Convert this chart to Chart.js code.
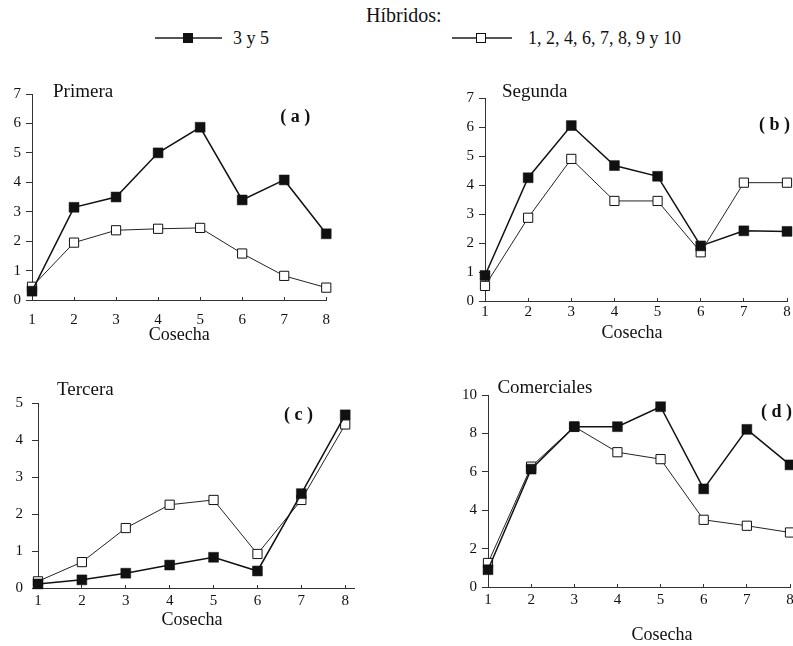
<!DOCTYPE html>
<html>
<head>
<meta charset="utf-8">
<script src="https://cdn.jsdelivr.net/npm/chart.js@4.4.1/dist/chart.umd.min.js"></script>
<style>
  html, body { margin: 0; padding: 0; background: #fff; }
  body {
    width: 793px; height: 646px; position: relative; overflow: hidden;
    font-family: 'Liberation Serif', 'Times New Roman', serif; color: #111;
  }
  canvas { position: absolute; }
  .lg-title { position: absolute; left: 366px; top: 4px; font-size: 20px; line-height: 22px; }
  .lg-line { position: absolute; top: 37px; height: 1.5px; background: #555; }
  .lg-mark { position: absolute; top: 33px; width: 10px; height: 10px; box-sizing: border-box; border: 1px solid #111; background: #111; }
  .lg-mark.open { background: #fff; }
  .lg-text { position: absolute; top: 27px; font-size: 18px; line-height: 22px; white-space: nowrap; }
</style>
</head>
<body>
<div class="lg-title">Híbridos:</div>
<div class="lg-line" style="left:155px;width:67px"></div>
<div class="lg-mark" style="left:183px"></div>
<div class="lg-text" style="left:233px">3 y 5</div>
<div class="lg-line" style="left:452px;width:60px"></div>
<div class="lg-mark open" style="left:476px"></div>
<div class="lg-text" style="left:528px">1, 2, 4, 6, 7, 8, 9 y 10</div>

<canvas id="chartA"></canvas>
<canvas id="chartB"></canvas>
<canvas id="chartC"></canvas>
<canvas id="chartD"></canvas>

<script>
// ---- data ----
const cosecha = [1, 2, 3, 4, 5, 6, 7, 8]

const primera35    = [0.30, 3.15, 3.50, 5.00, 5.87, 3.40, 4.08, 2.25]
const primeraOtros = [0.45, 1.95, 2.37, 2.42, 2.45, 1.58, 0.82, 0.42]

const segunda35    = [0.88, 4.25, 6.05, 4.67, 4.30, 1.90, 2.42, 2.40]
const segundaOtros = [0.52, 2.87, 4.90, 3.45, 3.45, 1.68, 4.08, 4.08]

const tercera35    = [0.11, 0.22, 0.40, 0.62, 0.83, 0.46, 2.55, 4.68]
const terceraOtros = [0.18, 0.70, 1.62, 2.25, 2.38, 0.92, 2.38, 4.42]

const comerciales35    = [0.90, 6.14, 8.35, 8.35, 9.39, 5.11, 8.21, 6.36]
const comercialesOtros = [1.25, 6.27, 8.35, 7.02, 6.66, 3.50, 3.19, 2.84]

const yTicks7  = [0, 1, 2, 3, 4, 5, 6, 7]
const yTicks5  = [0, 1, 2, 3, 4, 5]
const yTicks10 = [0, 2, 4, 6, 8, 10]

const SERIF = "'Liberation Serif', 'Times New Roman', serif"
Chart.defaults.font.family = SERIF
Chart.defaults.color = '#111'

// draws panel name, letter tag and axis title relative to the chart area
const panelText = {
  id: 'panelText',
  afterDraw(chart, args, opts) {
    const { ctx, chartArea: a } = chart
    ctx.save()
    ctx.fillStyle = '#111'
    ctx.textBaseline = 'middle'
    opts.items.forEach(t => {
      ctx.font = t.font
      ctx.textAlign = t.align
      let x = a.left + t.dx
      if (t.from === 'right') x = a.right + t.dx
      if (t.from === 'center') x = (a.left + a.right) / 2 + t.dx
      const y = (t.fromY === 'bottom' ? a.bottom : a.top) + t.dy
      ctx.fillText(t.text, x, y)
    })
    ctx.restore()
  }
}

function labels(name, nameDx, nameDy, tag, tagDx, tagDy, axDx, axDy) {
  return [
    { text: name, font: `19px ${SERIF}`, align: 'left', dx: nameDx, dy: nameDy },
    { text: tag, font: `bold 18px ${SERIF}`, align: 'right', from: 'right', dx: tagDx, dy: tagDy },
    { text: 'Cosecha', font: `18px ${SERIF}`, align: 'center', from: 'center', dx: axDx, fromY: 'bottom', dy: axDy }
  ]
}

const panels = [
  { id: 'chartA', s35: primera35, otros: primeraOtros, yTicks: yTicks7, area: [32, 94, 329, 300], xMax: 8,
    xPad: 11, yPad: 5, text: labels('Primera', 21, -2, '( a )', -16, 23, 0, 35) },
  { id: 'chartB', s35: segunda35, otros: segundaOtros, yTicks: yTicks7, area: [485, 98, 787, 301], xMax: 8,
    xPad: 2, yPad: 5, text: labels('Segunda', 17, -6, '( b )', 3, 27, -4, 32) },
  { id: 'chartC', s35: tercera35, otros: terceraOtros, yTicks: yTicks5, area: [38, 403, 354, 588], xMax: 8.2,
    xPad: 4.5, yPad: 9, text: labels('Tercera', 19, -12.6, '( c )', -41, 12, -4, 32) },
  { id: 'chartD', s35: comerciales35, otros: comercialesOtros, yTicks: yTicks10, area: [488, 395, 790, 587], xMax: 8,
    xPad: 4, yPad: 5, text: labels('Comerciales', 9.4, -7, '( d )', 2, 17, 23, 48) }
]

function makePanel(p) {
  const [L, T, R, B] = p.area
  const padTop = 30, padRight = 15, yW = 32, xH = 60
  const canvas = document.getElementById(p.id)
  canvas.style.left = (L - yW) + 'px'
  canvas.style.top = (T - padTop) + 'px'
  canvas.width = (R - L) + yW + padRight
  canvas.height = (B - T) + padTop + xH

  const axisColor = '#333'
  new Chart(canvas, {
    type: 'line',
    data: {
      datasets: [
        {
          label: '3 y 5',
          data: cosecha.map((x, i) => ({ x, y: p.s35[i] })),
          borderColor: '#111',
          borderWidth: 1.5,
          pointStyle: 'rect',
          pointRadius: 7,
          pointBackgroundColor: '#111',
          pointBorderColor: '#111',
          pointBorderWidth: 0.5,
          clip: false
        },
        {
          label: '1, 2, 4, 6, 7, 8, 9 y 10',
          data: cosecha.map((x, i) => ({ x, y: p.otros[i] })),
          borderColor: '#222',
          borderWidth: 1,
          pointStyle: 'rect',
          pointRadius: 6.5,
          pointBackgroundColor: '#fff',
          pointBorderColor: '#111',
          pointBorderWidth: 1,
          clip: false
        }
      ]
    },
    options: {
      responsive: false,
      animation: false,
      devicePixelRatio: 1,
      layout: { padding: { left: 0, top: padTop, right: padRight, bottom: 0 } },
      plugins: {
        legend: { display: false },
        tooltip: { enabled: false },
        panelText: { items: p.text }
      },
      scales: {
        x: {
          type: 'linear',
          min: 1,
          max: p.xMax,
          afterBuildTicks: s => { s.ticks = cosecha.map(v => ({ value: v })) },
          afterFit: s => { s.height = xH },
          ticks: { color: '#111', font: { size: 15 }, padding: p.xPad + 3, maxRotation: 0, autoSkip: false },
          grid: { drawOnChartArea: false, drawTicks: true, tickLength: -3, color: axisColor },
          border: { display: true, color: axisColor, width: 1 }
        },
        y: {
          min: 0,
          max: p.yTicks[p.yTicks.length - 1],
          afterBuildTicks: s => { s.ticks = p.yTicks.map(v => ({ value: v })) },
          afterFit: s => { s.width = yW },
          ticks: { color: '#111', font: { size: 15 }, padding: p.yPad },
          grid: { drawOnChartArea: false, drawTicks: true, tickLength: 6, color: axisColor },
          border: { display: true, color: axisColor, width: 1 }
        }
      }
    },
    plugins: [panelText]
  })
}

panels.forEach(makePanel)
</script>
</body>
</html>
